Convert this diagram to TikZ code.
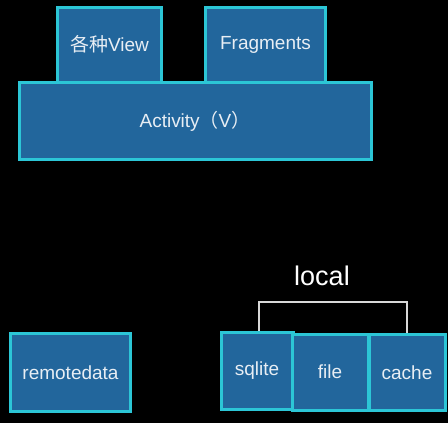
\documentclass[tikz,border=0pt]{standalone}
\usepackage{fontspec}
\setmainfont{Liberation Sans}
\newfontfamily\cjk{Noto Sans CJK SC}
\definecolor{boxfill}{HTML}{22669C}
\definecolor{boxedge}{HTML}{2CC6D6}
\definecolor{txt}{HTML}{E8EEF4}
\definecolor{brk}{HTML}{D8D8D8}
\tikzset{
  blockbox/.style={draw=boxedge, fill=boxfill, line width=3pt, inner sep=0pt,
    text=txt, font=\fontsize{19}{22}\selectfont},
  bracketline/.style={draw=brk, line width=1.3pt},
}
\begin{document}
\begin{tikzpicture}[x=1pt,y=-1pt]
\fill[black] (0,0) rectangle (448,423);
\useasboundingbox (0,0) rectangle (448,423);
% top group
\node[blockbox, minimum width=104pt, minimum height=75pt] (view) at (109.5,44.5) {{\cjk 各种}View};
\node[blockbox, minimum width=120pt, minimum height=75pt] (frag) at (265.5,44.5) {Fragments};
\node[blockbox, minimum width=352pt, minimum height=77pt] (act) at (195,121) {Activity{\cjk （}V{\cjk ）}};
% bottom group
\node[blockbox, minimum width=120pt, minimum height=78pt] (remote) at (70.5,372.5) {remotedata};
\node[blockbox, minimum width=72pt, minimum height=77pt] (sqlite) at (257,371) {sqlite};
\node[blockbox, minimum width=76pt, minimum height=76pt] (file) at (330,372) {file};
\node[blockbox, minimum width=76pt, minimum height=76pt] (cache) at (407,372.5) {cache};
% local bracket
\node[text=white, font=\fontsize{27}{30}\selectfont] (local) at (322,276) {local};
\coordinate (bl) at (259,302);
\coordinate (br) at (407,302);
\draw[bracketline] (sqlite.north -| bl) -- (bl) -- (br) -- (cache.north -| br);
\end{tikzpicture}
\end{document}
